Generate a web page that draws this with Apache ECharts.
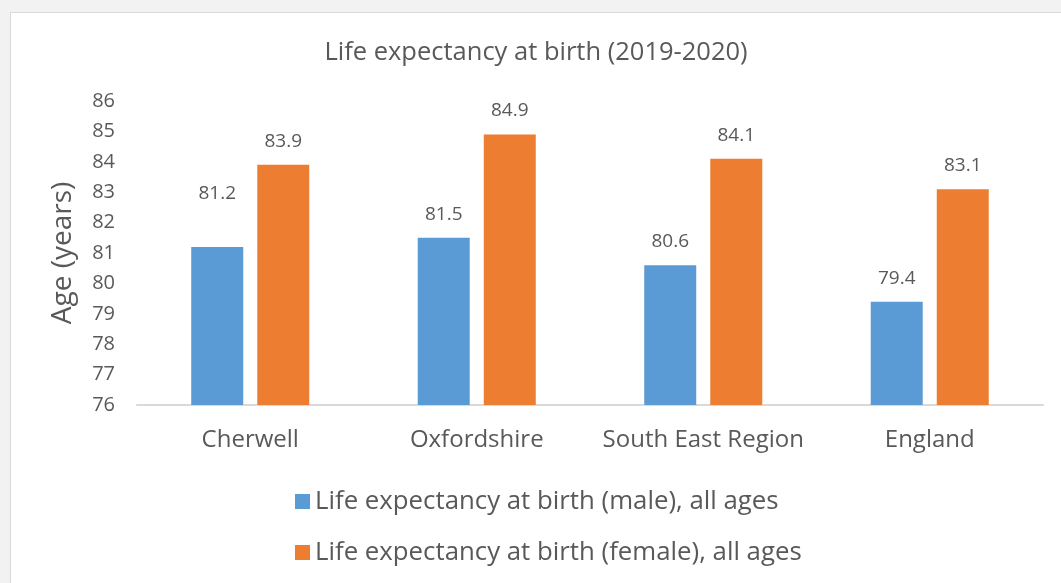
<!DOCTYPE html>
<html>
<head>
<meta charset="utf-8">
<script src="https://cdn.jsdelivr.net/npm/echarts@6/dist/echarts.min.js"></script>
<style>
  html, body { margin: 0; padding: 0; background: #f2f2f2; overflow: hidden; }
  #chart { position: absolute; left: 10px; top: 12px; width: 1050px; height: 570px;
           background: #fff; border-left: 1px solid #d9d9d9; border-top: 1px solid #d9d9d9; }
</style>
</head>
<body>
<div id="chart"></div>
<script>
// ── data ──
const categories = ["Cherwell", "Oxfordshire", "South East Region", "England"];
const maleValues = [81.2, 81.5, 80.6, 79.4];
const femaleValues = [83.9, 84.9, 84.1, 83.1];
const seriesNames = [
  "Life expectancy at birth (male), all ages",
  "Life expectancy at birth (female), all ages",
];

const FONT = "'Open Sans', sans-serif";
const TXT = "#595959";

const chart = echarts.init(document.getElementById("chart"), null, { renderer: "canvas" });

// Cherwell male label sits higher in the original
const maleData = maleValues.map((v, i) => i === 0
  ? { value: v, label: { distance: 44 } }
  : v);

chart.setOption({
  backgroundColor: "#fff",
  animation: false,
  textStyle: { fontFamily: FONT },
  title: {
    text: "Life expectancy at birth (2019-2020)",
    left: "center", top: 22,
    textStyle: { fontFamily: FONT, fontWeight: "normal", fontSize: 25.5, color: TXT },
  },
  grid: { left: 126, right: 18, top: 88, bottom: 178, containLabel: false },
  legend: {
    orient: "vertical", left: 279, top: 470,
    itemWidth: 15, itemHeight: 15, itemGap: 24,
    icon: "rect",
    textStyle: { fontFamily: FONT, fontSize: 25.8, color: TXT, lineHeight: 27 },
    data: seriesNames,
  },
  xAxis: {
    type: "category", data: categories,
    axisLine: { lineStyle: { color: "#d9d9d9", width: 2 } },
    axisTick: { show: false },
    axisLabel: { fontFamily: FONT, fontSize: 24, color: TXT, margin: 23, interval: 0 },
  },
  yAxis: {
    type: "value", min: 76, max: 86, interval: 1,
    name: "Age (years)", nameLocation: "middle", nameGap: 60,
    nameTextStyle: { fontFamily: FONT, fontSize: 28, color: TXT },
    axisLine: { show: false }, axisTick: { show: false },
    splitLine: { show: false },
    axisLabel: { fontFamily: FONT, fontSize: 20, color: TXT, margin: 22 },
  },
  series: [
    {
      name: seriesNames[0], type: "bar", data: maleData,
      itemStyle: { color: "#5b9bd5" },
      barWidth: 52, barGap: "27%",
      label: { show: true, position: "top", distance: 14, fontFamily: FONT, fontSize: 19, color: TXT },
    },
    {
      name: seriesNames[1], type: "bar", data: femaleValues,
      itemStyle: { color: "#ed7d31" },
      barWidth: 52, barGap: "27%",
      label: { show: true, position: "top", distance: 14, fontFamily: FONT, fontSize: 19, color: TXT },
    },
  ],
});
</script>
</body>
</html>
